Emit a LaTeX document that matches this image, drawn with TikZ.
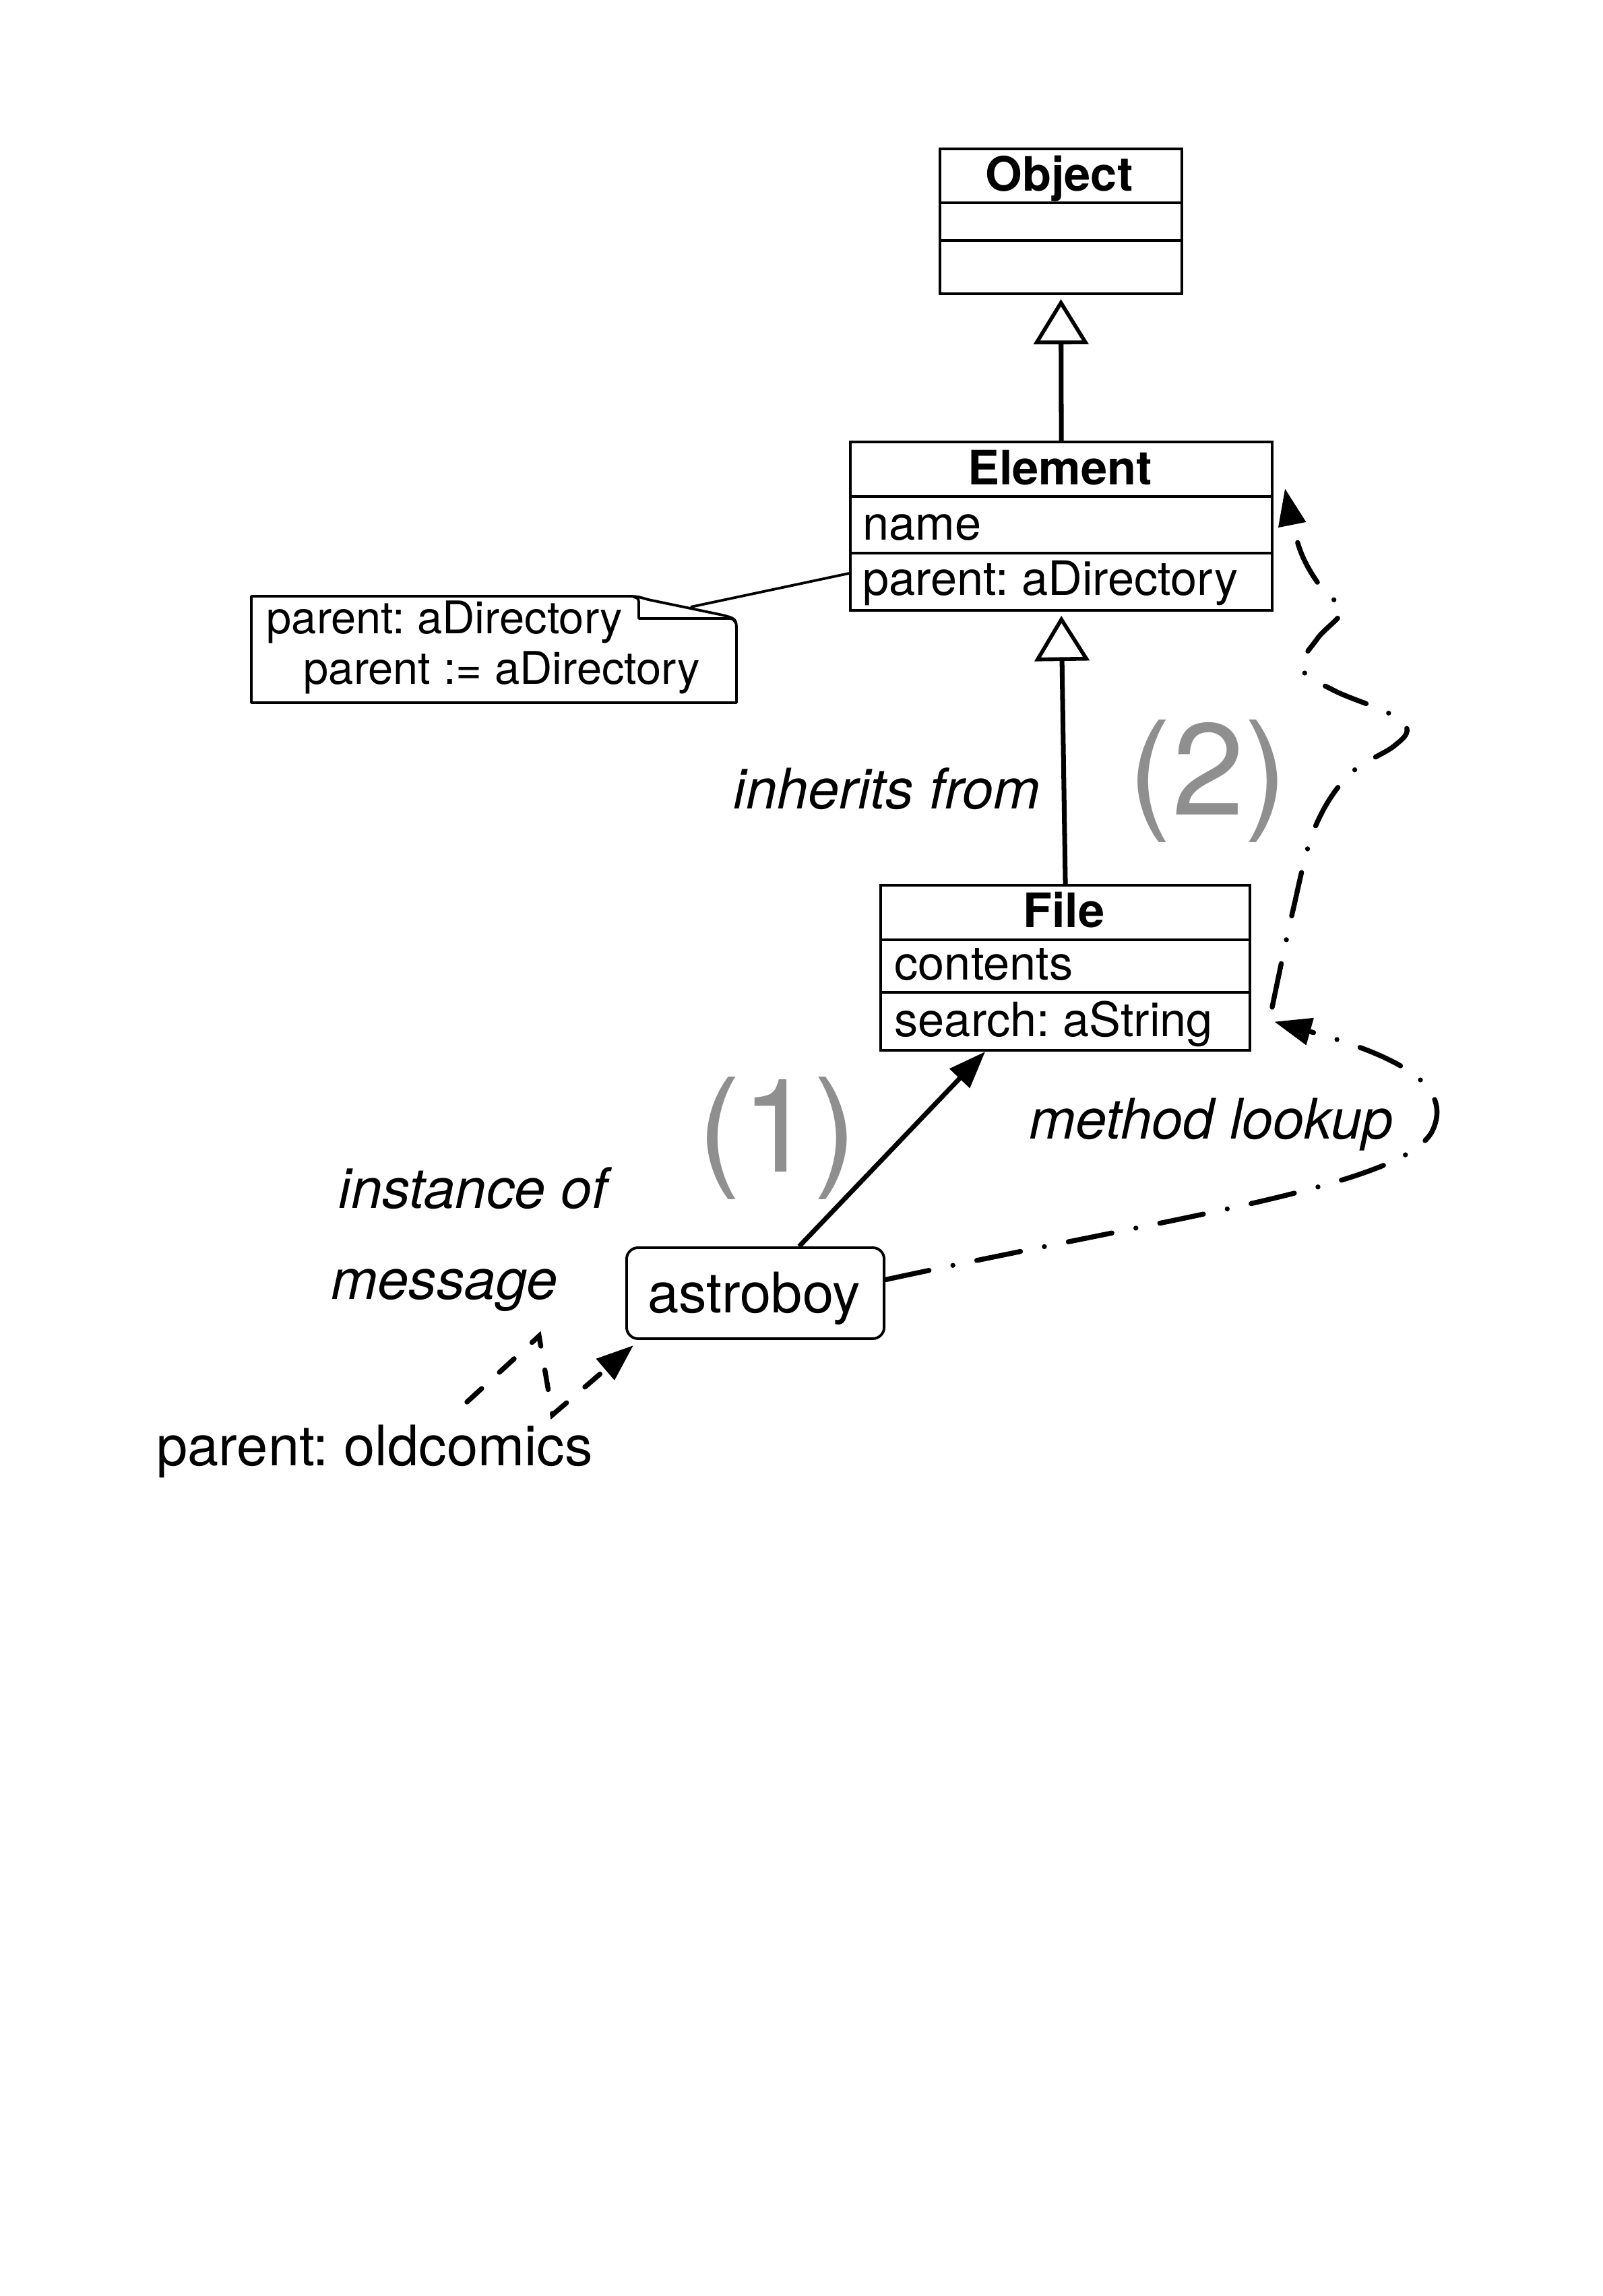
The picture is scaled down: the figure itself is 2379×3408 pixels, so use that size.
\documentclass[tikz,border=0pt]{standalone}
\usepackage{fontspec}
\setmainfont{TeX Gyre Heros}
\usetikzlibrary{arrows.meta,calc}
\definecolor{numgray}{RGB}{143,143,143}
\newcommand{\fsBox}{\fontsize{20}{24}\selectfont}
\newcommand{\fsNote}{\fontsize{19}{23}\selectfont}
\newcommand{\fsLbl}{\fontsize{23.6}{28}\selectfont}
\newcommand{\fsNum}{\fontsize{55}{60}\selectfont}
\frenchspacing
\begin{document}
\begin{tikzpicture}[x=0.01cm, y=-0.01cm,
  classbox/.style={draw, line width=1.1pt, inner sep=0pt, anchor=north west},
  divider/.style={line width=1.1pt},
  boxtxt/.style={font=\fsBox, inner sep=0pt, anchor=base west},
  boxtitle/.style={font=\fsBox\bfseries, inner sep=0pt, anchor=base},
  notetxt/.style={font=\fsNote, inner sep=0pt, anchor=base west},
  lbl/.style={font=\fsLbl\itshape, inner sep=0pt, anchor=base west},
  plain/.style={font=\fsLbl, inner sep=0pt, anchor=base west},
  num/.style={font=\fsNum, text=numgray, inner sep=0pt, anchor=base},
  inherit/.style={line width=2pt, -{Triangle[length=0.67cm, width=0.81cm, line width=1.6pt, fill=white]}},
  msg/.style={line width=2pt, -{Triangle[length=0.55cm, width=0.4cm]}},
  dashdot/.style={line width=2.1pt, line cap=round, dash pattern=on 18.8pt off 10.3pt on 0pt off 10.3pt, -{Triangle[length=0.55cm, width=0.4cm]}},
  dashz/.style={line width=2.1pt, line cap=round, dash pattern=on 8.4pt off 10.2pt, -{Triangle[length=0.55cm, width=0.4cm]}}
]
\path[use as bounding box, fill=white] (0,0) rectangle (2379,3408);

% Object
\node[classbox, minimum width=3.59cm, minimum height=2.15cm] (object) at (1393,219) {};
\draw[divider] ($(object.north west)+(0,82)$) -- ($(object.north east)+(0,82)$);
\draw[divider] ($(object.north west)+(0,138)$) -- ($(object.north east)+(0,138)$);
\node[boxtitle] (objt) at (1572,283) {Object};

% Element
\node[classbox, minimum width=6.26cm, minimum height=2.50cm] (element) at (1260,654) {};
\draw[divider] ($(element.north west)+(0,83)$) -- ($(element.north east)+(0,83)$);
\draw[divider] ($(element.north west)+(0,167)$) -- ($(element.north east)+(0,167)$);
\node[boxtitle] (elt) at (1573,719) {Element};
\node[boxtxt] (ela1) at (1280,801) {name};
\node[boxtxt] (ela2) at (1280,883) {parent: aDirectory};

% File
\node[classbox, minimum width=5.48cm, minimum height=2.45cm] (file) at (1305,1312) {};
\draw[divider] ($(file.north west)+(0,83)$) -- ($(file.north east)+(0,83)$);
\draw[divider] ($(file.north west)+(0,161)$) -- ($(file.north east)+(0,161)$);
\node[boxtitle] (filet) at (1579,1376) {File};
\node[boxtxt] (fila1) at (1327,1454) {contents};
\node[boxtxt] (fila2) at (1327,1538) {search: aString};

% astroboy
\node[draw, line width=1.1pt, rounded corners=0.17cm, inner sep=0pt, anchor=north west,
      minimum width=3.82cm, minimum height=1.35cm] (astro) at (928,1850) {};
\node[plain, anchor=base] (astrot) at (1119,1948) {astroboy};

% note
\node[inner sep=0pt, anchor=north west, minimum width=7.2cm, minimum height=1.58cm] (note) at (373,885) {};
\draw[line width=1.1pt, line join=round]
  (373,885) -- (928,885) .. controls (945,885) .. (962,890) -- (1068,912)
  .. controls (1093,918) .. (1093,938) -- (1093,1043) -- (373,1043) -- cycle;
\draw[line width=1.1pt, line join=round]
  (940,886) .. controls (948,888) .. (948,900) -- (948,918) -- (1078,918)
  .. controls (1088,918) .. (1092,925);
\node[notetxt] (n1) at (395,940) {parent: aDirectory};
\node[notetxt] (n2) at (450,1015) {parent := aDirectory};
\draw[line width=1.1pt] ($(note.north east)+(-70,16)$) -- ($(element.south west)+(0,-57)$);

% inheritance
\draw[inherit] (element.north) -- ($(object.south)+(0,6)$);
\draw[inherit] (file.north) -- ($(element.south)+(0,6)$);

% instance of
\draw[msg] ($(astro.north)+(65,0)$) -- ($(file.south)+(-119,0)$);

% method lookup (1)
\coordinate (lookupTip) at ($(file.east)+(34,80)$);
\draw[dashdot] ($(astro.east)+(0,-20)$) .. controls (1750,1805) and (2080,1760) .. (2125,1680)
  .. controls (2160,1610) and (2070,1566) .. (lookupTip);

% method lookup (2)
\coordinate (supStart) at ($(file.east)+(35,60)$);
\coordinate (supTip) at ($(element.east)+(21,-54)$);
\draw[dashdot] plot[smooth, tension=0.6] coordinates {(1888,1495) (1918,1355) (1950,1232) (2000,1152)
  (2068,1108) (2088,1082) (2060,1058) (1980,1025) (1932,992) (1955,948) (1993,905) (1965,878) (1930,818) (1907,725)};

% message
\coordinate (zzStart) at (693,2081);
\draw[dashz] (zzStart) -- (800,1983) -- (820,2100) -- ($(astro.south west)+(12,8)$);

% labels
\node[lbl] (inh) at (1088,1200) {inherits from};
\node[lbl] (ml) at (1527,1690) {method lookup};
\node[lbl] (io) at (502,1793) {instance of};
\node[lbl] (msgl) at (491,1928) {message};
\node[plain] (poc) at (232,2175) {parent: oldcomics};
\node[num] (one) at (1154,1739) {(1)};
\node[num] (two) at (1793,1209) {(2)};
\end{tikzpicture}
\end{document}
